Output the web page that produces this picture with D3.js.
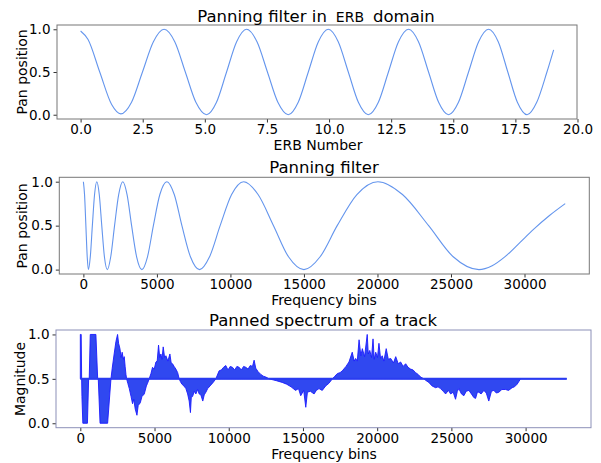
<!DOCTYPE html>
<html>
<head>
<meta charset="utf-8">
<script src="https://cdnjs.cloudflare.com/ajax/libs/d3/7.8.5/d3.min.js"></script>
<style>
  body { margin: 0; background: white; }
  text { font-family: "DejaVu Sans", sans-serif; fill: #000; }
</style>
</head>
<body>
<script>
// pan position against ERB number
const erbX = [0.0, 0.3, 0.77, 1.25, 1.62, 2.05, 2.49, 2.93, 3.36, 3.79, 4.215, 4.64, 5.07,
  5.47, 5.875, 6.28, 6.68, 7.1, 7.52, 7.94, 8.36, 8.76, 9.165, 9.57, 9.97, 10.37, 10.775,
  11.18, 11.58, 11.985, 12.39, 12.795, 13.2, 13.6, 14.005, 14.41, 14.81, 15.21, 15.615,
  16.02, 16.42, 16.81, 17.195, 17.58, 17.97, 18.36, 18.77, 19.04];
const erbPan = [0.98, 0.88, 0.5, 0.12, 0.01, 0.146, 0.5, 0.854, 1.0, 0.854, 0.5, 0.146, 0.0,
  0.146, 0.5, 0.854, 1.0, 0.854, 0.5, 0.146, 0.0, 0.146, 0.5, 0.854, 1.0, 0.854, 0.5,
  0.146, 0.0, 0.146, 0.5, 0.854, 1.0, 0.854, 0.5, 0.146, 0.0, 0.146, 0.5,
  0.854, 1.0, 0.854, 0.5, 0.146, 0.0, 0.146, 0.5, 0.76];

// pan position against frequency bin (middle plot)
const binX = [0, 80, 170, 260, 340, 470, 610, 760, 910, 1080, 1250, 1430, 1630, 1860, 2120, 2400,
  2680, 2970, 3280, 3620, 3980, 4360, 4760, 5200, 5680, 6180, 6700, 7280, 7900, 8580, 9300,
  10080, 10900, 11880, 12930, 13950, 15000, 16100, 17260, 18600, 20030, 21700, 23480, 25150,
  26900, 27800, 28700, 29700, 30630, 31700, 32768];
const binPan = [1.0, 0.85, 0.5, 0.146, 0.0, 0.146, 0.5, 0.854, 1.0, 0.854, 0.5, 0.146, 0.0, 0.146, 0.5, 0.854,
  1.0, 0.854, 0.5, 0.146, 0.0, 0.146, 0.5, 0.854, 1.0, 0.854, 0.5, 0.146, 0.0, 0.146, 0.5,
  0.854, 1.0, 0.854, 0.5, 0.146, 0.0, 0.146, 0.5, 0.854, 1.0, 0.854, 0.5, 0.146,
  0.0, 0.044, 0.15, 0.31, 0.46, 0.615, 0.75];

// panned spectrum envelope (bottom plot), 0.5 = centre
const specBin = [0, 60, 90, 110, 170, 480, 560, 600, 670, 1050, 1170, 1210, 1330, 1840, 2065,
  2150, 2280, 2400, 2510, 2580, 2670, 2750, 2820, 2900, 2960, 3020, 3075, 3120,
  3200, 3300, 3420, 3520, 3600, 3700, 3815, 3900, 4040, 4150, 4310, 4450, 4530, 4640,
  4760, 4865, 4980, 5094, 5180, 5270, 5350, 5430, 5500, 5585, 5680, 5767, 5900, 6036, 6120, 6211, 6320, 6440, 6560, 6660,
  6740, 6845, 6980, 7113, 7230, 7335, 7420, 7480, 7560, 7680, 7786, 7900, 8008, 8120, 8250, 8350, 8460, 8580, 8740, 8950, 9130,
  9350, 9500, 9650, 9800, 9950, 10100, 10250, 10400, 10550, 10700, 10850, 11000, 11150, 11300, 11450, 11600, 11710, 11820, 11980, 12160, 12330, 12500, 12720,
  13200, 13600, 13900, 14200, 14500, 14700, 14850, 15050, 15190, 15300, 15500, 15750, 15900, 16080, 16300, 16530, 16750, 16980,
  17150, 17320, 17500, 17650, 17900, 18100, 18320, 18450, 18550, 18660, 18780, 18900, 19000, 19150, 19330, 19400, 19500, 19620,
  19720, 19800, 19900, 20020, 20120, 20230, 20340, 20450, 20610, 20750, 20910, 21100, 21250, 21420, 21580, 21750, 21920, 22080,
  22250, 22420, 22590, 22760, 22930, 23150,
  23300, 23480, 23700, 23940, 24100, 24270, 24450, 24610, 24800, 24950, 25120, 25280, 25400, 25500, 25680, 25840, 26000, 26180,
  26350, 26510, 26630, 26750, 26850, 27000, 27190, 27350, 27520, 27700, 27860, 28030, 28200, 28400, 28650, 28850, 29090, 29250, 29430, 29660,
  32768];
const specMag = [1.0, 1.0, 0.5, 0.3, 0.0, 0.0, 0.5, 0.5, 1.0, 1.0, 0.5, 0.5, 0.0, 0.0, 0.5,
  0.62, 0.78, 0.92, 1.0, 0.9, 0.84, 0.74, 0.8, 0.72, 0.75, 0.64, 0.55, 0.5,
  0.45, 0.39, 0.3, 0.22, 0.27, 0.16, 0.09, 0.2, 0.23, 0.3, 0.33, 0.42, 0.45, 0.5,
  0.56, 0.63, 0.61, 0.69, 0.7, 0.88, 0.74, 0.78, 0.72, 0.86, 0.74, 0.76, 0.7, 0.78, 0.68, 0.67, 0.64, 0.61, 0.57, 0.5,
  0.47, 0.44, 0.42, 0.39, 0.33, 0.25, 0.12, 0.3, 0.3, 0.36, 0.33, 0.38, 0.33, 0.32, 0.25, 0.32, 0.35, 0.39, 0.42, 0.46, 0.5,
  0.59, 0.6, 0.63, 0.65, 0.6, 0.64, 0.63, 0.6, 0.64, 0.63, 0.6, 0.64, 0.63, 0.61, 0.65, 0.64, 0.71, 0.62, 0.58, 0.55, 0.53, 0.52, 0.5,
  0.48, 0.46, 0.44, 0.41, 0.37, 0.39, 0.31, 0.37, 0.18, 0.35, 0.36, 0.33, 0.37, 0.39, 0.37, 0.42, 0.45, 0.5,
  0.53, 0.56, 0.57, 0.59, 0.64, 0.69, 0.8, 0.7, 0.73, 0.7, 0.94, 0.76, 0.84, 0.75, 1.0, 0.78, 0.82, 0.74,
  0.95, 0.72, 0.8, 0.74, 0.9, 0.73, 0.76, 0.7, 0.84, 0.72, 0.73, 0.68, 0.75, 0.67, 0.69, 0.64, 0.67, 0.63,
  0.61, 0.6, 0.57, 0.55, 0.52, 0.5,
  0.48, 0.46, 0.42, 0.4, 0.41, 0.39, 0.36, 0.33, 0.37, 0.33, 0.35, 0.27, 0.36, 0.39, 0.33, 0.31, 0.36, 0.37,
  0.33, 0.29, 0.28, 0.35, 0.35, 0.33, 0.37, 0.34, 0.25, 0.36, 0.37, 0.34, 0.35, 0.38, 0.38, 0.37, 0.4, 0.41, 0.44, 0.5,
  0.5];

const erbTicks = [0, 2.5, 5, 7.5, 10, 12.5, 15, 17.5, 20];
const binTicks = [0, 5000, 10000, 15000, 20000, 25000, 30000];
const panTicks = [0, 0.5, 1];

const svg = d3.select('body').append('svg')
  .attr('width', 601)
  .attr('height', 463)
  .style('display', 'block')
  .style('background', 'white');

function makePanel(box, xDomain, xTicks, xFmt, spineColor) {
  const x = d3.scaleLinear().domain(xDomain).range([box.left, box.right]);
  const y = d3.scaleLinear().domain([-0.05, 1.05]).range([box.bottom, box.top]);

  const xa = svg.append('g')
    .attr('transform', `translate(0, ${box.bottom})`)
    .call(d3.axisBottom(x).tickValues(xTicks).tickFormat(xFmt).tickSize(3.5).tickSizeOuter(0).tickPadding(2));
  const ya = svg.append('g')
    .attr('transform', `translate(${box.left}, 0)`)
    .call(d3.axisLeft(y).tickValues(panTicks).tickFormat(d3.format('.1f')).tickSize(3.5).tickSizeOuter(0).tickPadding(3));
  [xa, ya].forEach(a => {
    a.select('.domain').remove();
    a.selectAll('line').attr('stroke', '#333');
    a.selectAll('text').style('font-size', '13.5px').attr('fill', '#000');
  });

  svg.append('rect')
    .attr('x', box.left).attr('y', box.top)
    .attr('width', box.right - box.left).attr('height', box.bottom - box.top)
    .attr('fill', 'none').attr('stroke', spineColor).attr('stroke-width', 1);
  return { x, y };
}

// top panel
const p1 = makePanel({ left: 57, right: 577, top: 25, bottom: 119 }, [-0.95, 19.98], erbTicks, d3.format('.1f'), '#777');
svg.append('path')
  .datum(erbX.map((d, i) => [d, erbPan[i]]))
  .attr('fill', 'none').attr('stroke', '#6495ed').attr('stroke-width', 1.1)
  .attr('d', d3.line().x(d => p1.x(d[0])).y(d => p1.y(d[1])).curve(d3.curveMonotoneX));

const t1 = svg.append('text').attr('x', 316).attr('y', 22).attr('text-anchor', 'middle').style('font-size', '16.5px');
t1.append('tspan').text('Panning filter in');
t1.append('tspan').attr('dx', 9).style('font-size', '14px').text('ERB');
t1.append('tspan').attr('dx', 9).text('domain');
svg.append('text').attr('x', 318).attr('y', 150).attr('text-anchor', 'middle').style('font-size', '14px').text('ERB Number');
svg.append('text').attr('transform', 'translate(27, 72) rotate(-90)').attr('text-anchor', 'middle').style('font-size', '14px').text('Pan position');

// middle panel
const p2 = makePanel({ left: 59.3, right: 589.3, top: 177.3, bottom: 274 }, [-1638, 34406], binTicks, d3.format('d'), '#777');
svg.append('path')
  .datum(binX.map((d, i) => [d, binPan[i]]))
  .attr('fill', 'none').attr('stroke', '#6495ed').attr('stroke-width', 1.1)
  .attr('d', d3.line().x(d => p2.x(d[0])).y(d => p2.y(d[1])).curve(d3.curveMonotoneX));

svg.append('text').attr('x', 324).attr('y', 173).attr('text-anchor', 'middle').style('font-size', '16.5px').text('Panning filter');
svg.append('text').attr('x', 324).attr('y', 305).attr('text-anchor', 'middle').style('font-size', '14px').text('Frequency bins');
svg.append('text').attr('transform', 'translate(27, 226) rotate(-90)').attr('text-anchor', 'middle').style('font-size', '14px').text('Pan position');

// bottom panel
const p3 = makePanel({ left: 56, right: 591, top: 330, bottom: 427.7 }, [-1638, 34406], binTicks, d3.format('d'), '#8c90b8');
const spec = specBin.map((d, i) => [d, specMag[i]]);
svg.append('path')
  .datum(spec)
  .attr('fill', '#3048f0').attr('stroke', '#1a1aff').attr('stroke-width', 0.9)
  .attr('d', d3.area().x(d => p3.x(d[0])).y0(p3.y(0.5)).y1(d => p3.y(d[1])));
svg.append('line')
  .attr('x1', p3.x(0)).attr('x2', p3.x(32768))
  .attr('y1', p3.y(0.5)).attr('y2', p3.y(0.5))
  .attr('stroke', '#2a3cf0').attr('stroke-width', 2);

svg.append('text').attr('x', 323).attr('y', 326).attr('text-anchor', 'middle').style('font-size', '16.5px').text('Panned spectrum of a track');
svg.append('text').attr('x', 324).attr('y', 459).attr('text-anchor', 'middle').style('font-size', '14px').text('Frequency bins');
svg.append('text').attr('transform', 'translate(25, 379) rotate(-90)').attr('text-anchor', 'middle').style('font-size', '14px').text('Magnitude');
</script>
</body>
</html>
